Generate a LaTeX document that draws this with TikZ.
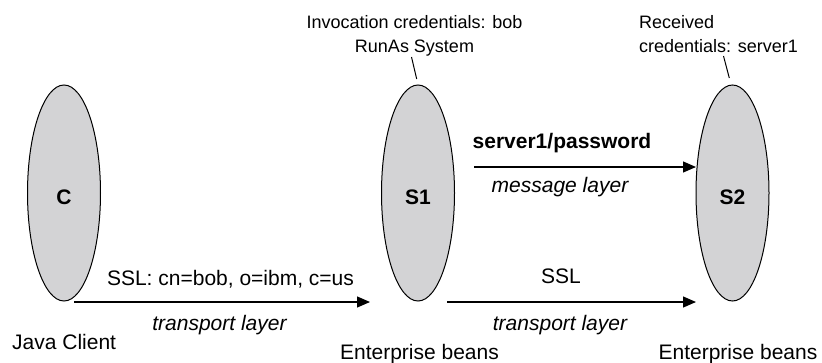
\documentclass[tikz,border=0pt]{standalone}
\usepackage{fontspec}
\setmainfont{Liberation Sans}
\usetikzlibrary{shapes.geometric,arrows.meta}
\definecolor{ellgray}{RGB}{211,211,213}
\begin{document}
\begin{tikzpicture}[x=1pt,y=-1pt,
  srv/.style={ellipse,draw=black,line width=1pt,fill=ellgray,minimum width=73pt,minimum height=216pt,inner sep=0pt,font=\fontsize{21}{25}\selectfont\bfseries,text height=23pt,text depth=0pt},
  lbl/.style={font=\fontsize{21}{25}\selectfont,inner sep=0pt,anchor=base},
  note/.style={font=\fontsize{18}{24}\selectfont,inner sep=0pt},
  arr/.style={line width=1.2pt,-{Triangle[length=13pt,width=11pt]}},
  leader/.style={line width=1pt}]
\useasboundingbox (0,0) rectangle (822,362);
% servers
\node[srv] (C) at (64,193) {C};
\node[srv] (S1) at (418,193) {S1};
\node[srv] (S2) at (732.5,193) {S2};
% annotations
\node[note,align=center,anchor=north] (inv) at (414.5,15) {Invocation credentials: bob\\RunAs System};
\node[note,align=left,anchor=north west] (rec) at (639,15) {Received\\credentials: server1};
\coordinate (l1a) at (411.5,57);
\coordinate (l1b) at (416.7,79);
\coordinate (l2a) at (723.5,56);
\coordinate (l2b) at (729.3,78);
\draw[leader] (l1a) -- (l1b);
\draw[leader] (l2a) -- (l2b);
% arrows
\coordinate (a1s) at (74,302);
\coordinate (a1e) at (370,302);
\coordinate (a2s) at (447,302);
\coordinate (a2e) at (696,302);
\coordinate (a3s) at (474,167);
\coordinate (a3e) at (696,167);
\draw[arr] (a1s) -- (a1e);
\draw[arr] (a2s) -- (a2e);
\draw[arr] (a3s) -- (a3e);
% labels
\node[lbl] (ssl1) at (230.5,285) {SSL: cn=bob, o=ibm, c=us};
\node[lbl] (tl1) at (219.5,330) {\itshape transport layer};
\node[lbl,anchor=base west] (jc) at (12,349) {Java Client};
\node[lbl] (pw) at (562,148) {\bfseries server1/password};
\node[lbl] (ml) at (560,192) {\itshape message layer};
\node[lbl] (ssl2) at (561,283) {SSL};
\node[lbl] (tl2) at (560,330) {\itshape transport layer};
\node[lbl] (eb1) at (419.5,359) {Enterprise beans};
\node[lbl] (eb2) at (738,359) {Enterprise beans};
\end{tikzpicture}
\end{document}
